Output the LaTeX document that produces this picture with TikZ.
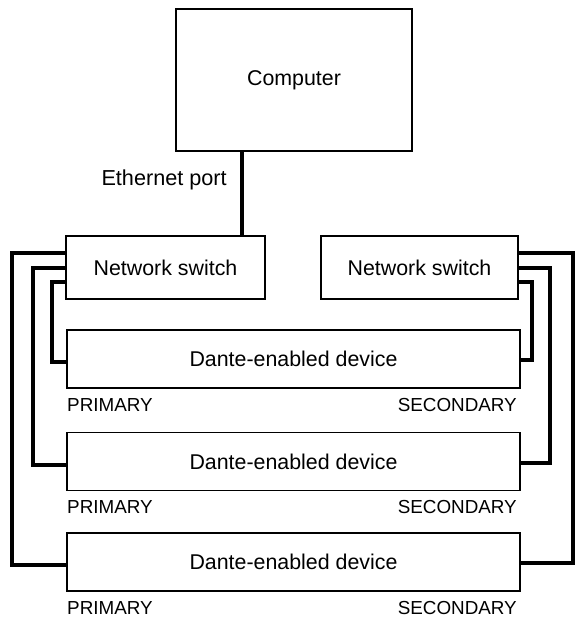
\documentclass[tikz,border=0pt]{standalone}
\usepackage{fontspec}
\setmainfont{Liberation Sans}

\begin{document}
\begin{tikzpicture}[x=0.025cm, y=-0.025cm,
    box/.style={draw, line width=1.4pt, rectangle, inner sep=0pt, outer sep=0pt,
        font=\fontsize{15.2}{18}\selectfont},
    device/.style={minimum width=11.325cm, minimum height=1.45cm},
    lbl/.style={inner sep=0pt, font=\fontsize{15.4}{18}\selectfont},
    port/.style={inner sep=0pt, font=\fontsize{13.4}{16}\selectfont},
    cable/.style={line width=3pt}]
    \useasboundingbox (0,0) rectangle (578,623);

    \node[box, minimum width=5.9cm, minimum height=3.55cm] (pc) at (294,80) {Computer};
    \node[box, minimum width=4.975cm, minimum height=1.575cm] (swL) at (165.5,267.5) {Network switch};
    \node[box, minimum width=4.925cm, minimum height=1.575cm] (swR) at (419.5,267.5) {Network switch};
    \node[box, device] (dev1) at (293.5,359) {Dante-enabled device};
    \node[box, device] (dev2) at (293.5,461.5) {Dante-enabled device};
    \node[box, device] (dev3) at (293.5,562) {Dante-enabled device};

    \node[lbl, anchor=base east] (eth) at (227,185) {Ethernet port};

    \node[port, anchor=north west] (pri1) at ([yshift=-0.25cm]dev1.south west) {PRIMARY};
    \node[port, anchor=north east] (sec1) at ([xshift=-0.075cm, yshift=-0.25cm]dev1.south east) {SECONDARY};
    \node[port, anchor=north west] (pri2) at ([yshift=-0.25cm]dev2.south west) {PRIMARY};
    \node[port, anchor=north east] (sec2) at ([xshift=-0.075cm, yshift=-0.25cm]dev2.south east) {SECONDARY};
    \node[port, anchor=north west] (pri3) at ([yshift=-0.25cm]dev3.south west) {PRIMARY};
    \node[port, anchor=north east] (sec3) at ([xshift=-0.075cm, yshift=-0.25cm]dev3.south east) {SECONDARY};

    % computer to primary switch
    \draw[cable] (pc.south -| 242,0) -- (swL.north -| 242,0);

    % primary network
    \draw[cable] (swL.west |- 0,253) -| (12,565) -- (dev3.west |- 0,565);
    \draw[cable] (swL.west |- 0,268) -| (33,465) -- (dev2.west |- 0,465);
    \draw[cable] (swL.west |- 0,282) -| (52,362) -- (dev1.west |- 0,362);

    % secondary network
    \draw[cable] (swR.east |- 0,253) -| (573,563) -- (dev3.east |- 0,563);
    \draw[cable] (swR.east |- 0,268) -| (550,463) -- (dev2.east |- 0,463);
    \draw[cable] (swR.east |- 0,282) -| (532,360) -- (dev1.east |- 0,360);
\end{tikzpicture}
\end{document}
